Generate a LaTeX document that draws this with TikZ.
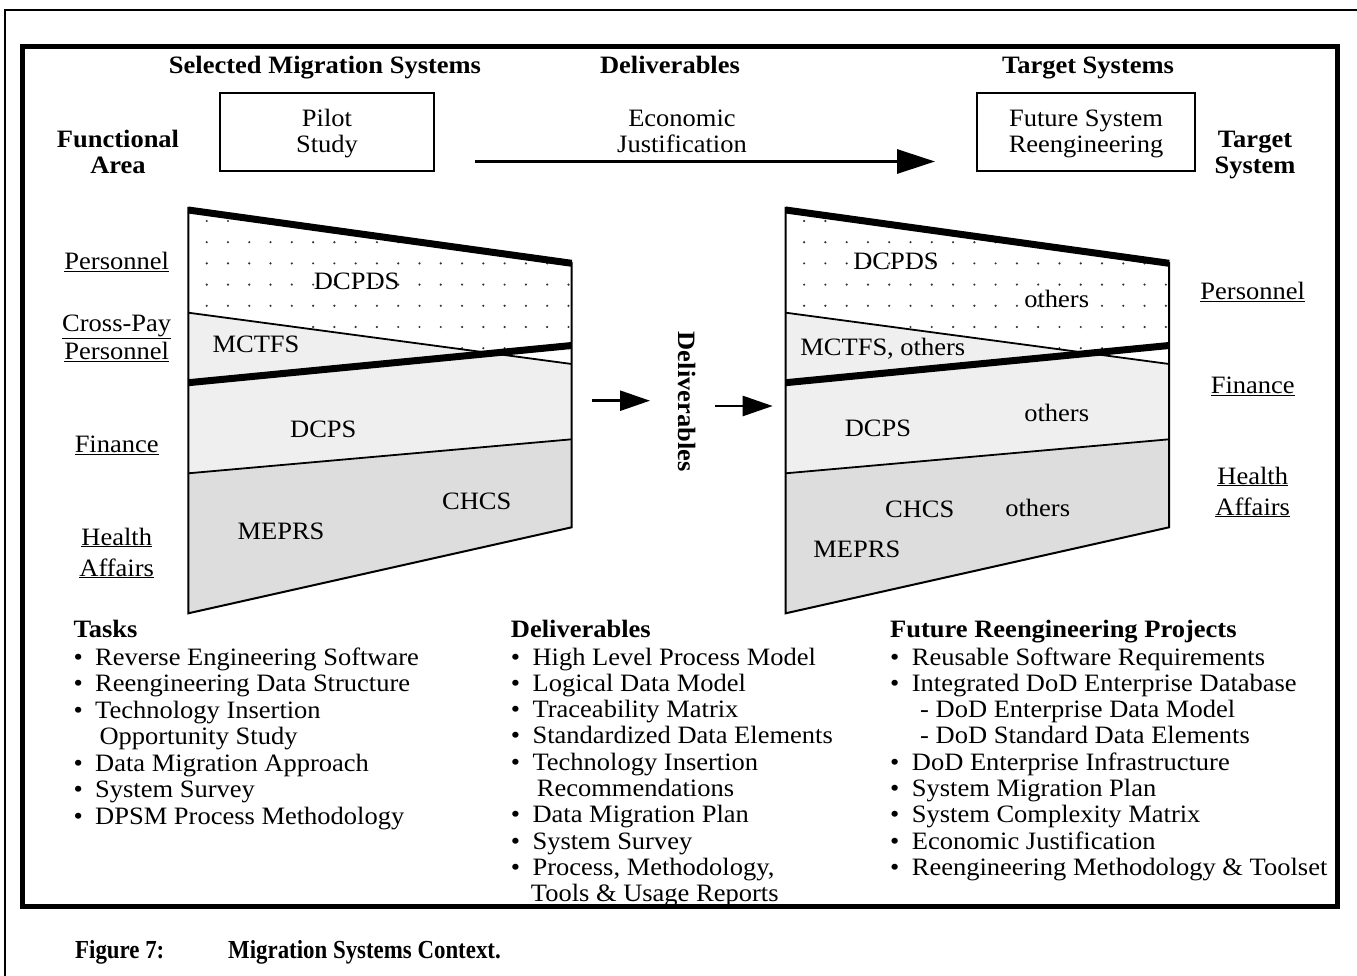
\documentclass[tikz,border=0pt]{standalone}
\usepackage{fontspec}
\setmainfont{Liberation Serif}[FakeStretch=1.06]
\newfontfamily\capfont{Liberation Serif}[FakeStretch=0.88]
\usetikzlibrary{arrows.meta}
\definecolor{lgray}{HTML}{EFEFEF}
\definecolor{mgray}{HTML}{DDDDDD}
\newcommand\bul{\makebox[21.7pt][l]{\textbullet}}
\newcommand\drawtrap[1]{%
 \begin{scope}[xshift=#1pt]
  \fill[lgray] (188.3,312.7) -- (571.7,364) -- (571.7,439.3) -- (188.3,473.3) -- cycle;
  \fill[mgray] (188.3,473.3) -- (571.7,439.3) -- (571.7,527.3) -- (188.3,613.3) -- cycle;
  \begin{scope}
   \clip (188.3,210) -- (571.7,263.3) -- (571.7,364) -- (188.3,312.7) -- cycle;
   \foreach \i in {0,...,17} \foreach \j in {0,...,6}
     \fill[black!80] (206.7+21.28*\i, 221+21.2*\j) circle (1.2pt);
  \end{scope}
  \draw[line width=2pt] (188.3,207) -- (188.3,613.3) -- (571.7,527.3) -- (571.7,262);
  \draw[line width=1.8pt] (188.3,312.7) -- (571.7,364);
  \draw[line width=1.8pt] (188.3,473.3) -- (571.7,439.3);
  \draw[line width=7pt] (188.3,210) -- (571.7,263.3);
  \draw[line width=7pt] (188.3,382.7) -- (571.7,345.5);
 \end{scope}}
\begin{document}
\begin{tikzpicture}[x=1pt,y=-1pt,
  txt/.style={font=\fontsize{25}{26.4}\selectfont, inner sep=0pt, anchor=base},
  hdr/.style={txt, font=\fontsize{25}{26.4}\selectfont\bfseries},
  lst/.style={txt, anchor=base west},
  box/.style={draw, line width=2pt, minimum width=214pt, minimum height=77.4pt, inner sep=0pt},
  capstyle/.style={font=\capfont\fontsize{26}{28}\selectfont\bfseries, inner sep=0pt, anchor=base west},
  bigarrow/.style={line width=3pt, -{Triangle[length=38pt,width=24pt]}},
  smallarrow/.style={line width=2.5pt, -{Triangle[length=30pt,width=20pt]}}]
\useasboundingbox (0,0) rectangle (1357,976);
% frames
\draw[line width=2.5pt] (5,976) -- (5,10) -- (1357,10);
\draw[line width=5pt] (22,46.5) rectangle (1337,906);
% headers
\node[hdr] (hsel) at (325,73.3) {Selected Migration Systems};
\node[hdr] (hdel) at (670,73.3) {Deliverables};
\node[hdr] (htar) at (1088,73.3) {Target Systems};
% top row
\node[hdr] (fa1) at (118,148) {Functional};
\node[hdr] (fa2) at (118,174) {Area};
\node[box] (pilot) at (327,132) {};
\node[txt] (pilot1) at (327,126.7) {Pilot};
\node[txt] (pilot2) at (327,152.5) {Study};
\node[txt] (ej1) at (682,126.7) {Economic};
\node[txt] (ej2) at (682,152.5) {Justification};
\coordinate (ejs) at (475,161.5);
\coordinate (eje) at (935,161.5);
\draw[bigarrow] (ejs) -- (eje);
\node[box, minimum width=218pt] (future) at (1086,132) {};
\node[txt] (future1) at (1086,126.7) {Future System};
\node[txt] (future2) at (1086,152.5) {Reengineering};
\node[hdr] (ts1) at (1255,148) {Target};
\node[hdr] (ts2) at (1255,174) {System};
% trapezoids
\drawtrap{0}
\drawtrap{597.4}
% left trapezoid labels
\node[txt] (l1) at (356.7,290) {DCPDS};
\node[txt] (l2) at (256,352.7) {MCTFS};
\node[txt] (l3) at (323.3,437.3) {DCPS};
\node[txt] (l4) at (476.7,509.3) {CHCS};
\node[txt] (l5) at (281,539.3) {MEPRS};
% right trapezoid labels
\node[txt] (r1) at (896,270) {DCPDS};
\node[txt] (r2) at (1056.7,307.3) {others};
\node[txt] (r3) at (882.8,355.7) {MCTFS, others};
\node[txt] (r4) at (1056.7,421.7) {others};
\node[txt] (r5) at (878,436.7) {DCPS};
\node[txt] (r6) at (919.7,517.3) {CHCS};
\node[txt] (r7) at (1037.7,516.7) {others};
\node[txt] (r8) at (856.8,557.3) {MEPRS};
% functional area labels
\node[txt] (fl1) at (116.7,269.3) {\underline{Personnel}};
\node[txt] (fl2) at (116.7,331.7) {\underline{Cross-Pay}};
\node[txt] (fl3) at (116.7,359.3) {\underline{Personnel}};
\node[txt] (fl4) at (116.7,452.7) {\underline{Finance}};
\node[txt] (fl5) at (116.7,545) {\underline{Health}};
\node[txt] (fl6) at (116.7,576) {\underline{Affairs}};
% target system labels
\node[txt] (tl1) at (1252.7,300) {\underline{Personnel}};
\node[txt] (tl2) at (1252.7,393.3) {\underline{Finance}};
\node[txt] (tl3) at (1252.7,484) {\underline{Health}};
\node[txt] (tl4) at (1252.7,515) {\underline{Affairs}};
% middle
\node[hdr, rotate=-90, anchor=center] (mdel) at (686.7,401.7) {Deliverables};
\coordinate (a1s) at (592.3,400.7);
\coordinate (a1e) at (650,400.7);
\coordinate (a2s) at (715,406);
\coordinate (a2e) at (772.7,406);
\draw[smallarrow] (a1s) -- (a1e);
\draw[smallarrow] (a2s) -- (a2e);
% tasks list
\node[lst] (t0) at (73.3,637) {\textbf{Tasks}};
\node[lst] (t1) at (73.3,665) {\bul Reverse Engineering Software};
\node[lst] (t2) at (73.3,691.5) {\bul Reengineering Data Structure};
\node[lst] (t3) at (73.3,718) {\bul Technology Insertion};
\node[lst] (t4) at (99.3,744.5) {Opportunity Study};
\node[lst] (t5) at (73.3,771) {\bul Data Migration Approach};
\node[lst] (t6) at (73.3,797.5) {\bul System Survey};
\node[lst] (t7) at (73.3,824) {\bul DPSM Process Methodology};
% deliverables list
\node[lst] (d0) at (510.7,637) {\textbf{Deliverables}};
\node[lst] (d1) at (510.7,665) {\bul High Level Process Model};
\node[lst] (d2) at (510.7,691.3) {\bul Logical Data Model};
\node[lst] (d3) at (510.7,717.6) {\bul Traceability Matrix};
\node[lst] (d4) at (510.7,743.9) {\bul Standardized Data Elements};
\node[lst] (d5) at (510.7,770.2) {\bul Technology Insertion};
\node[lst] (d6) at (536.7,796.5) {Recommendations};
\node[lst] (d7) at (510.7,822.8) {\bul Data Migration Plan};
\node[lst] (d8) at (510.7,849.1) {\bul System Survey};
\node[lst] (d9) at (510.7,875.4) {\bul Process, Methodology,};
\node[lst] (d10) at (530.7,901.7) {Tools \& Usage Reports};
% future projects list
\node[lst] (f0) at (890,637) {\textbf{Future Reengineering Projects}};
\node[lst] (f1) at (890,665) {\bul Reusable Software Requirements};
\node[lst] (f2) at (890,691.3) {\bul Integrated DoD Enterprise Database};
\node[lst] (f3) at (920,717.6) {- DoD Enterprise Data Model};
\node[lst] (f4) at (920,743.9) {- DoD Standard Data Elements};
\node[lst] (f5) at (890,770.2) {\bul DoD Enterprise Infrastructure};
\node[lst] (f6) at (890,796.5) {\bul System Migration Plan};
\node[lst] (f7) at (890,822.8) {\bul System Complexity Matrix};
\node[lst] (f8) at (890,849.1) {\bul Economic Justification};
\node[lst] (f9) at (890,875.4) {\bul Reengineering Methodology \& Toolset};
% caption
\node[capstyle] (fig) at (75,958) {Figure 7:};
\node[capstyle] (figt) at (228,958) {Migration Systems Context.};
\end{tikzpicture}
\end{document}
